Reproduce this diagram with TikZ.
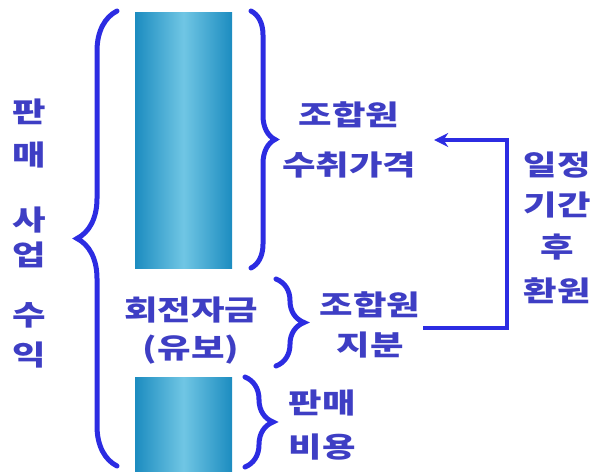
\documentclass[tikz,border=0pt]{standalone}
\usepackage{fontspec}
\setmainfont{Noto Sans CJK KR}[FakeStretch=1.3]
\usetikzlibrary{decorations.pathreplacing,arrows.meta}
\definecolor{txtblue}{RGB}{62,62,196}
\definecolor{brblue}{RGB}{44,44,226}
\definecolor{baredge}{RGB}{28,140,192}
\definecolor{barmid}{RGB}{112,198,228}
\tikzset{
  lbl/.style={text=txtblue, font=\fontsize{28}{32}\selectfont\bfseries, inner sep=0pt, align=center},
  bracebig/.style={draw=brblue, line width=5pt, line cap=round, decorate, decoration={brace, amplitude=#1}},
  bar/.style={left color=baredge, right color=baredge, middle color=barmid, draw=none},
  retarrow/.style={draw=brblue, line width=4pt, -{Stealth[length=14pt,width=14pt]}}
}
\begin{document}
\begin{tikzpicture}[x=1pt,y=-1pt]
\useasboundingbox (0,0) rectangle (596,471);
% bars
\path[bar] (135,12) rectangle (232,268);
\path[bar] (135,377) rectangle (232,471);
% braces
\draw[bracebig=40pt] (117,466) -- (117,11);
\draw[bracebig=24pt] (251,11) -- (251,268);
\draw[bracebig=28pt] (276,279) -- (276,366);
\draw[bracebig=28pt] (245,377) -- (245,467);
% vertical text
\node[lbl] (v1) at (29,112) {판};
\node[lbl] (v2) at (29,155) {매};
\node[lbl] (v3) at (29,220) {사};
\node[lbl] (v4) at (29,255) {업};
\node[lbl] (v5) at (29,315) {수};
\node[lbl] (v6) at (29,355) {익};
% middle text
\node[lbl] (fund) at (191,331) {회전자금\\[6pt](유보)};
% right texts
\node[lbl] (sc) at (349,140) {조합원\\[18pt]수취가격};
\node[lbl] (jh) at (370,325) {조합원\\[8pt]지분};
\node[lbl] (sb) at (322,425) {판매\\[12pt]비용};
\node[lbl] (ret) at (557,228) {일정\\[8pt]기간\\[10pt]후\\[12pt]환원};
% arrow
\draw[retarrow] ([xshift=3pt,yshift=-3pt]jh.east) -- ++(84,0) |- ([xshift=18pt]sc.east);
\end{tikzpicture}
\end{document}
